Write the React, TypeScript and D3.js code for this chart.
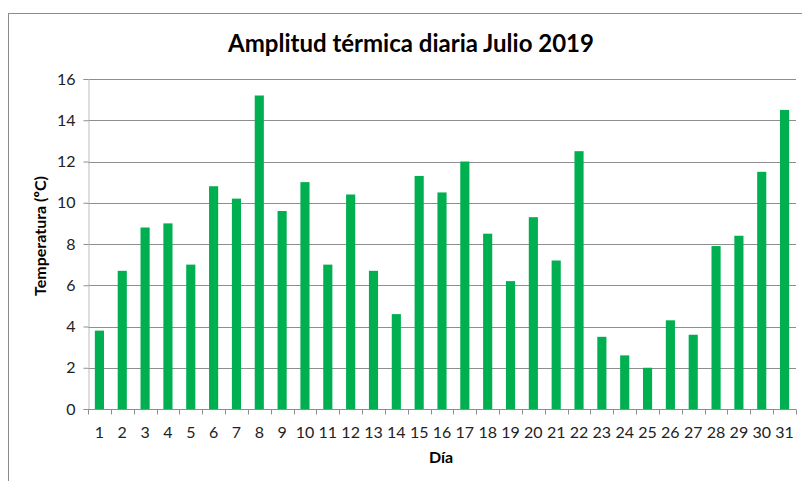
import { useEffect, useRef } from 'react';
import * as d3 from 'd3';

// Daily thermal range, July 2019
const days = d3.range(1, 32).map(String);
const amplitude = [
    3.8, 6.7, 8.8, 9.0, 7.0, 10.8, 10.2, 15.2, 9.6, 11.0,
    7.0, 10.4, 6.7, 4.6, 11.3, 10.5, 12.0, 8.5, 6.2, 9.3,
    7.2, 12.5, 3.5, 2.6, 2.0, 4.3, 3.6, 7.9, 8.4, 11.5, 14.5,
];
const yTicks = [0, 2, 4, 6, 8, 10, 12, 14, 16];

const title = 'Amplitud térmica diaria Julio 2019';
const xLabel = 'Día';
const yLabel = 'Temperatura (ºC)';

export default function App() {
    const svgRef = useRef<SVGSVGElement>(null);

    useEffect(() => {
        const width = 802;
        const height = 481;
        const margin = { top: 79, right: 6, bottom: 72, left: 88 };
        const innerWidth = width - margin.left - margin.right;
        const innerHeight = height - margin.top - margin.bottom;
        const font = 'Lato, "Open Sans", sans-serif';

        const svg = d3.select(svgRef.current);
        svg.selectAll('*').remove();

        // chart frame (runs off the right and bottom edges)
        svg.append('rect')
            .attr('x', 8.5)
            .attr('y', 13.5)
            .attr('width', 820)
            .attr('height', 500)
            .attr('fill', 'white')
            .attr('stroke', '#8c8c8c')
            .attr('stroke-width', 1);

        svg.append('text')
            .attr('x', 411)
            .attr('y', 52)
            .attr('text-anchor', 'middle')
            .style('font-family', font)
            .style('font-size', '24px')
            .style('font-weight', 'bold')
            .text(title);

        const g = svg.append('g')
            .attr('transform', `translate(${margin.left},${margin.top})`);

        const x = d3.scaleBand()
            .domain(days)
            .range([0, innerWidth])
            .paddingInner(0.6)
            .paddingOuter(0.3);

        const y = d3.scaleLinear()
            .domain([0, 16])
            .range([innerHeight, 0]);

        // gridlines
        g.append('g')
            .selectAll('line')
            .data(yTicks.filter(d => d > 0))
            .enter()
            .append('line')
            .attr('x1', 0)
            .attr('x2', innerWidth)
            .attr('y1', d => Math.round(y(d)) + 0.5)
            .attr('y2', d => Math.round(y(d)) + 0.5)
            .attr('stroke', '#8e8e8e')
            .attr('stroke-width', 1);

        // bars
        g.selectAll('.bar')
            .data(amplitude)
            .enter()
            .append('rect')
            .attr('class', 'bar')
            .attr('x', (d, i) => x(days[i])!)
            .attr('width', x.bandwidth())
            .attr('y', d => y(d))
            .attr('height', d => innerHeight - y(d))
            .attr('fill', '#00b050');

        // y axis
        const yAxis = g.append('g')
            .attr('transform', 'translate(0.5,0)')
            .call(d3.axisLeft(y).tickValues(yTicks).tickSize(5).tickPadding(8));
        yAxis.select('.domain').attr('stroke', '#bdbdbd');
        yAxis.selectAll('.tick line').attr('stroke', '#8e8e8e');
        yAxis.selectAll('.tick text')
            .style('font-family', font)
            .style('font-size', '16px')
            .attr('fill', '#222');

        // x axis with ticks between categories
        const xAxis = g.append('g')
            .attr('transform', `translate(0,${Math.round(innerHeight) + 0.5})`);
        xAxis.append('line')
            .attr('x1', 0)
            .attr('x2', innerWidth)
            .attr('stroke', '#8e8e8e');
        const step = x.step();
        xAxis.selectAll('.sep')
            .data(d3.range(0, days.length + 1))
            .enter()
            .append('line')
            .attr('class', 'sep')
            .attr('x1', i => Math.round(i * step) + 0.5)
            .attr('x2', i => Math.round(i * step) + 0.5)
            .attr('y1', 0)
            .attr('y2', 5)
            .attr('stroke', '#8e8e8e');
        xAxis.selectAll('.lbl')
            .data(days)
            .enter()
            .append('text')
            .attr('class', 'lbl')
            .attr('x', d => x(d)! + x.bandwidth() / 2)
            .attr('y', 28)
            .attr('text-anchor', 'middle')
            .style('font-family', font)
            .style('font-size', '16px')
            .attr('fill', '#222')
            .text(d => d);

        // axis titles
        svg.append('text')
            .attr('x', 441)
            .attr('y', 463)
            .attr('text-anchor', 'middle')
            .style('font-family', font)
            .style('font-size', '16px')
            .style('font-weight', 'bold')
            .text(xLabel);

        svg.append('text')
            .attr('transform', 'translate(46,236) rotate(-90)')
            .attr('text-anchor', 'middle')
            .style('font-family', font)
            .style('font-size', '16px')
            .style('font-weight', 'bold')
            .text(yLabel);
    }, []);

    return (
        <svg
            ref={svgRef}
            width={802}
            height={481}
            style={{ position: 'absolute', left: 0, top: 0, background: 'white' }}
        />
    );
}
